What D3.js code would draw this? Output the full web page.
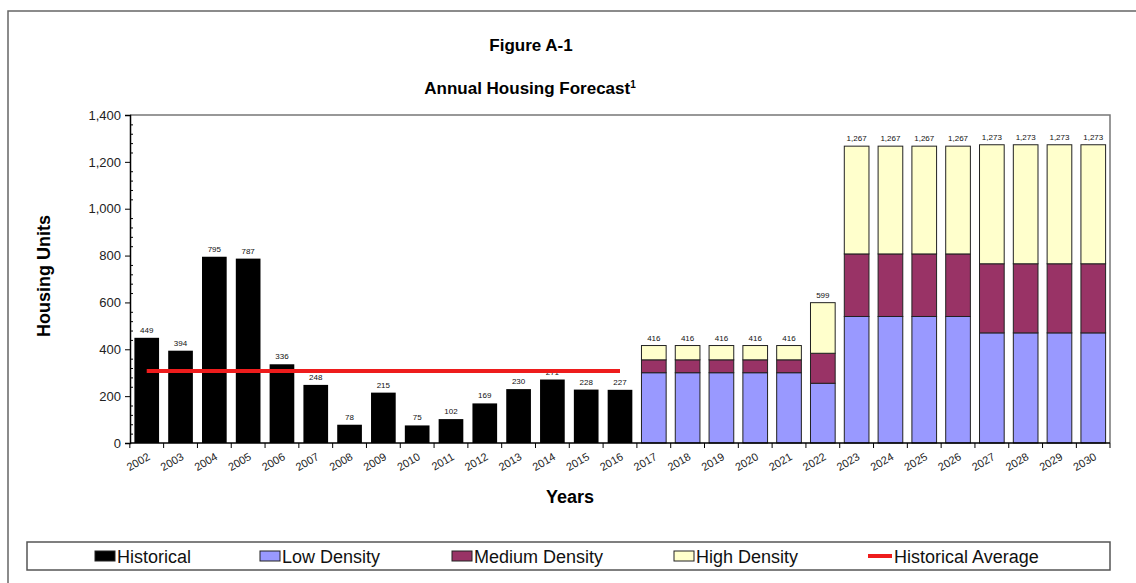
<!DOCTYPE html>
<html>
<head>
<meta charset="utf-8">
<script src="https://cdn.jsdelivr.net/npm/d3@7"></script>
<style>
  body { margin: 0; background: #fff; }
  svg { display: block; font-family: "Liberation Sans", Arial, sans-serif; }
</style>
</head>
<body>
<div id="chart"></div>
<script>
// Data
const historicalYears = ['2002', '2003', '2004', '2005', '2006', '2007', '2008', '2009',
    '2010', '2011', '2012', '2013', '2014', '2015', '2016'];
const historicalUnits = [449, 394, 795, 787, 336, 248, 78, 215, 75, 102, 169, 230, 271, 228, 227];
const historicalAverage = 307;

const forecastYears = ['2017', '2018', '2019', '2020', '2021', '2022', '2023', '2024',
    '2025', '2026', '2027', '2028', '2029', '2030'];
const lowDensity = [300, 300, 300, 300, 300, 255, 540, 540, 540, 540, 470, 470, 470, 470];
const mediumDensity = [55, 55, 55, 55, 55, 128, 267, 267, 267, 267, 295, 295, 295, 295];
const highDensity = [61, 61, 61, 61, 61, 216, 460, 460, 460, 460, 508, 508, 508, 508];

const yTickValues = [0, 200, 400, 600, 800, 1000, 1200, 1400];

const legendItems = ['Historical', 'Low Density', 'Medium Density', 'High Density', 'Historical Average'];

const colors = {
    historical: '#000000',
    low: '#9999ff',
    medium: '#993366',
    high: '#ffffcc',
    average: '#ee1c1c'
};

const width = 1136;
const height = 583;
const plot = { left: 130, right: 1110, top: 115, bottom: 443 };

const svg = d3.select('#chart').append('svg')
    .attr('width', width)
    .attr('height', height);

// outer frame
svg.append('path')
    .attr('d', `M8,${height + 2} L8,11 L${width + 2},11`)
    .attr('fill', 'none')
    .attr('stroke', '#666')
    .attr('stroke-width', 1.5);

// Titles
svg.append('text')
    .attr('x', 531).attr('y', 51)
    .attr('text-anchor', 'middle')
    .attr('font-size', 17).attr('font-weight', 'bold')
    .text('Figure A-1');

const sub = svg.append('text')
    .attr('x', 530).attr('y', 94)
    .attr('text-anchor', 'middle')
    .attr('font-size', 17).attr('font-weight', 'bold');
sub.append('tspan').text('Annual Housing Forecast');
sub.append('tspan').attr('font-size', 10).attr('dy', -6).text('1');

// Scales
const allYears = historicalYears.concat(forecastYears);

const xScale = d3.scaleBand()
    .domain(allYears)
    .range([plot.left, plot.right])
    .paddingInner(0.27)
    .paddingOuter(0.13);

const yScale = d3.scaleLinear()
    .domain([0, 1400])
    .range([plot.bottom, plot.top]);

// plot frame (top and right)
svg.append('path')
    .attr('d', `M${plot.left},${plot.top} L${plot.right},${plot.top} L${plot.right},${plot.bottom}`)
    .attr('fill', 'none')
    .attr('stroke', '#777')
    .attr('stroke-width', 1.5);

// Historical bars
const histData = historicalYears.map((y, i) => ({ year: y, value: historicalUnits[i] }));

svg.append('g')
    .selectAll('rect')
    .data(histData)
    .join('rect')
    .attr('x', d => xScale(d.year))
    .attr('y', d => yScale(d.value))
    .attr('width', xScale.bandwidth())
    .attr('height', d => yScale(0) - yScale(d.value))
    .attr('fill', colors.historical);

// Forecast stacked bars
const forecastData = forecastYears.map((y, i) => ({
    year: y, low: lowDensity[i], medium: mediumDensity[i], high: highDensity[i]
}));

const stack = d3.stack().keys(['low', 'medium', 'high']);
const series = stack(forecastData);

svg.append('g')
    .selectAll('g')
    .data(series)
    .join('g')
    .attr('fill', d => colors[d.key])
    .selectAll('rect')
    .data(d => d)
    .join('rect')
    .attr('x', d => xScale(d.data.year))
    .attr('y', d => yScale(d[1]))
    .attr('width', xScale.bandwidth())
    .attr('height', d => yScale(d[0]) - yScale(d[1]))
    .attr('stroke', '#222')
    .attr('stroke-width', 1);

// Value labels
const fmt = d3.format(',');
const totals = histData.map(d => ({ year: d.year, value: d.value }))
    .concat(forecastData.map(d => ({ year: d.year, value: d.low + d.medium + d.high })));

svg.append('g')
    .selectAll('text')
    .data(totals)
    .join('text')
    .attr('x', d => xScale(d.year) + xScale.bandwidth() / 2)
    .attr('y', d => yScale(d.value) - 5)
    .attr('text-anchor', 'middle')
    .attr('font-size', 8)
    .attr('fill', '#111')
    .text(d => fmt(d.value));

// Historical average line
const avgLine = d3.line()
    .x(d => xScale(d) + xScale.bandwidth() / 2)
    .y(() => yScale(historicalAverage));

svg.append('path')
    .datum([historicalYears[0], historicalYears[historicalYears.length - 1]])
    .attr('d', avgLine)
    .attr('stroke', colors.average)
    .attr('stroke-width', 4)
    .attr('fill', 'none');

// Y axis
const yAxis = d3.axisLeft(yScale)
    .tickValues(yTickValues)
    .tickSize(5)
    .tickPadding(4)
    .tickFormat(fmt);

const gy = svg.append('g')
    .attr('transform', `translate(${plot.left},0)`)
    .call(yAxis);
gy.select('.domain').attr('stroke', '#000').attr('stroke-width', 1.5);
gy.selectAll('text').attr('font-size', 13).attr('fill', '#222').attr('font-family', '"Liberation Sans", Arial, sans-serif');

const yMinor = d3.axisRight(yScale)
    .tickValues(d3.range(0, 1401, 40).filter(v => v % 200 !== 0))
    .tickSize(3)
    .tickFormat('');
const gyMinor = svg.append('g')
    .attr('transform', `translate(${plot.left},0)`)
    .call(yMinor);
gyMinor.select('.domain').remove();

// X axis
const step = xScale.step();
const xAxisLine = svg.append('g');
xAxisLine.append('line')
    .attr('x1', plot.left).attr('x2', plot.right)
    .attr('y1', plot.bottom).attr('y2', plot.bottom)
    .attr('stroke', '#000').attr('stroke-width', 1.5);

xAxisLine.selectAll('.xtick')
    .data(allYears.concat(['end']))
    .join('line')
    .attr('class', 'xtick')
    .attr('x1', d => d === 'end' ? plot.right : xScale(d) - step * xScale.paddingInner() / 2)
    .attr('x2', d => d === 'end' ? plot.right : xScale(d) - step * xScale.paddingInner() / 2)
    .attr('y1', plot.bottom)
    .attr('y2', plot.bottom + 5)
    .attr('stroke', '#000');

xAxisLine.selectAll('.xlabel')
    .data(allYears)
    .join('text')
    .attr('class', 'xlabel')
    .attr('text-anchor', 'end')
    .attr('font-size', 11)
    .attr('fill', '#222')
    .attr('transform', d => `translate(${xScale(d) + xScale.bandwidth() / 2 + 4},${plot.bottom + 16}) rotate(-30)`)
    .text(d => d);

// Axis titles
svg.append('text')
    .attr('x', 570).attr('y', 503)
    .attr('text-anchor', 'middle')
    .attr('font-size', 18).attr('font-weight', 'bold')
    .text('Years');

svg.append('text')
    .attr('transform', 'translate(50,276) rotate(-90)')
    .attr('text-anchor', 'middle')
    .attr('font-size', 18).attr('font-weight', 'bold')
    .text('Housing Units');

// Legend
const legend = svg.append('g');
legend.append('rect')
    .attr('x', 27).attr('y', 542)
    .attr('width', 1083).attr('height', 28)
    .attr('fill', '#fff')
    .attr('stroke', '#555')
    .attr('stroke-width', 1.5);

const legendX = [95, 260, 452, 674, 868];
const legendFill = [colors.historical, colors.low, colors.medium, colors.high, null];

legendItems.forEach((label, i) => {
    const g = legend.append('g').attr('transform', `translate(${legendX[i]},0)`);
    if (legendFill[i]) {
        g.append('rect')
            .attr('x', 0).attr('y', 551)
            .attr('width', 20).attr('height', 10)
            .attr('fill', legendFill[i])
            .attr('stroke', '#222');
    } else {
        g.append('line')
            .attr('x1', 0).attr('x2', 24)
            .attr('y1', 556).attr('y2', 556)
            .attr('stroke', colors.average)
            .attr('stroke-width', 4);
    }
    g.append('text')
        .attr('x', legendFill[i] ? 22 : 26)
        .attr('y', 563)
        .attr('font-size', 18)
        .attr('fill', '#111')
        .text(label);
});
</script>
</body>
</html>
